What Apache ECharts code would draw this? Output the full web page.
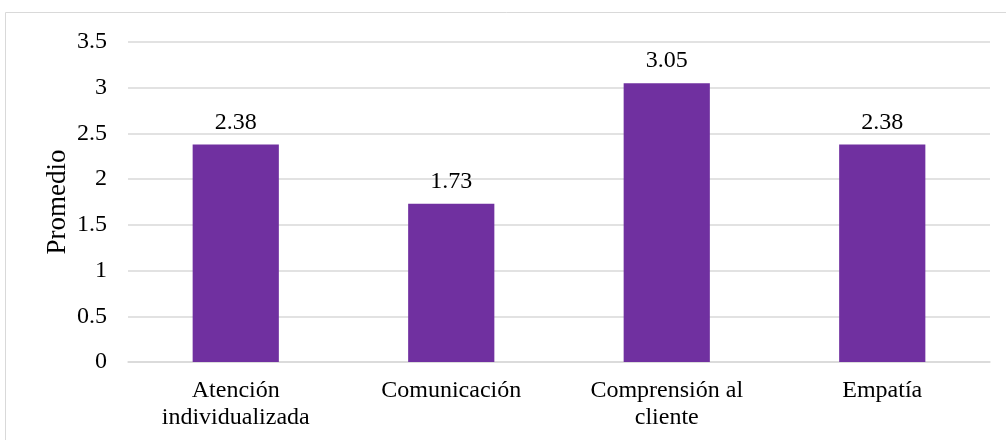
<!DOCTYPE html>
<html>
<head>
<meta charset="utf-8">
<script src="https://cdn.jsdelivr.net/npm/echarts@6/dist/echarts.min.js"></script>
<style>
  html, body { margin: 0; padding: 0; background: #fff; }
  #chart { width: 1006px; height: 440px; }
</style>
</head>
<body>
<div id="chart"></div>
<script>
// Dimension names and their average scores
const categories = ['Atención\nindividualizada', 'Comunicación', 'Comprensión al\ncliente', 'Empatía'];
const promedios = [2.38, 1.73, 3.05, 2.38];
const yTicks = [0, 0.5, 1, 1.5, 2, 2.5, 3, 3.5];

const fontFamily = '"Liberation Serif", "Times New Roman", serif';
const chart = echarts.init(document.getElementById('chart'), null, { renderer: 'canvas' });

chart.setOption({
  backgroundColor: '#ffffff',
  animation: false,
  textStyle: { fontFamily: fontFamily },
  graphic: [{
    type: 'rect',
    shape: { x: 5.5, y: 12.5, width: 1010, height: 440 },
    style: { fill: 'none', stroke: '#d9d9d9', lineWidth: 1 },
    silent: true
  }],
  grid: { left: 128, right: 16, top: 42, bottom: 78, containLabel: false },
  xAxis: {
    type: 'category',
    data: categories,
    axisLine: { show: true, lineStyle: { color: '#d9d9d9', width: 1.5 } },
    axisTick: { show: false },
    axisLabel: {
      color: '#000', fontSize: 24, fontFamily: fontFamily,
      margin: 15, lineHeight: 27, interval: 0
    }
  },
  yAxis: {
    type: 'value',
    min: yTicks[0],
    max: yTicks[yTicks.length - 1],
    interval: 0.5,
    name: 'Promedio',
    nameLocation: 'middle',
    nameGap: 57,
    nameMoveOverlap: false,
    nameRotate: 90,
    nameTextStyle: { color: '#000', fontSize: 27, fontFamily: fontFamily },
    axisLine: { show: false },
    axisTick: { show: false },
    axisLabel: { color: '#000', fontSize: 24, fontFamily: fontFamily, margin: 21 },
    splitLine: { show: true, lineStyle: { color: '#d9d9d9', width: 1.5 } }
  },
  series: [{
    type: 'bar',
    data: promedios,
    barWidth: '40%',
    itemStyle: { color: '#7030a0' },
    label: {
      show: true, position: 'top', distance: 10,
      color: '#000', fontSize: 24, fontFamily: fontFamily,
      formatter: p => p.value.toFixed(2)
    }
  }]
});
</script>
</body>
</html>
